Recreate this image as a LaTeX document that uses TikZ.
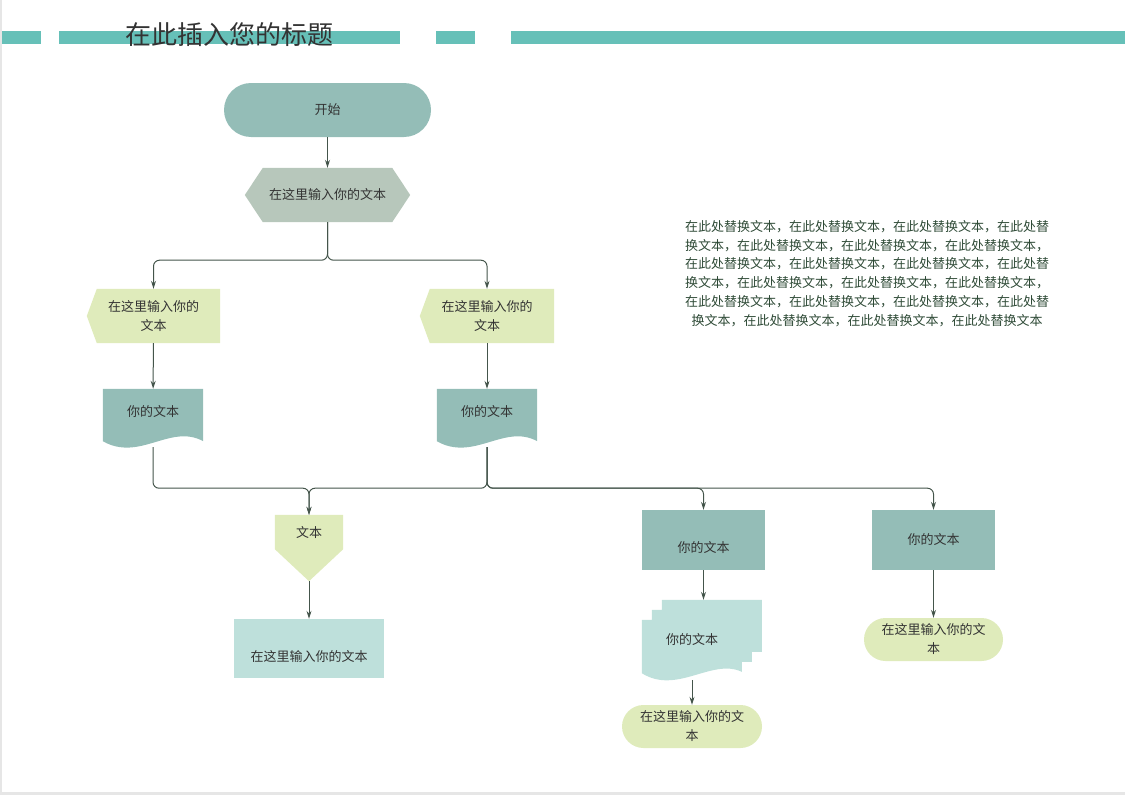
\documentclass[tikz,border=0pt]{standalone}
\usepackage{fontspec}
\setmainfont{Noto Sans CJK SC}
\usetikzlibrary{arrows.meta,backgrounds}
\definecolor{barteal}{HTML}{66C0B8}
\definecolor{nodeteal}{HTML}{94BDB7}
\definecolor{hexgray}{HTML}{B7C7BB}
\definecolor{paleolive}{HTML}{DFEBBB}
\definecolor{palecyan}{HTML}{BEE0DB}
\definecolor{linegreen}{HTML}{44554B}
\definecolor{textgray}{HTML}{333333}
\definecolor{paragreen}{HTML}{2E4A36}
\definecolor{framegray}{HTML}{E6E6E6}

\begin{document}
\begin{tikzpicture}[x=1pt,y=-1pt,
    box/.style={rectangle,inner sep=0pt,align=center,text=textgray,font=\fontsize{13}{19}\selectfont},
    flow/.style={draw=linegreen,line width=1pt,rounded corners=6pt,-{Stealth[length=8pt,width=5pt]}}]
    \useasboundingbox (0,0) rectangle (1125,795);
    \fill[framegray] (0,0) rectangle (2,795);
    \fill[framegray] (0,792) rectangle (1125,795);
    % title bar
    \fill[barteal] (2,31) rectangle (41,44);
    \fill[barteal] (59,31) rectangle (400,44);
    \fill[barteal] (436,31) rectangle (475,44);
    \fill[barteal] (511,31) rectangle (1125,44);
    \node[anchor=west,inner sep=0pt,text=textgray,font=\fontsize{26}{26}\selectfont] (title) at (125,35) {在此插入您的标题};

    \node[box,fill=nodeteal,rounded corners=27pt,minimum width=207pt,minimum height=54pt] (start) at (327.5,110) {开始};
    \node[box,minimum width=165pt,minimum height=54pt] (hex) at (327.5,195) {在这里输入你的文本};
    \node[box,minimum width=133pt,minimum height=54pt] (askL) at (153.5,316) {在这里输入你的\\文本};
    \node[box,minimum width=134pt,minimum height=54pt] (askR) at (487,316) {在这里输入你的\\文本};
    \node[box,minimum width=100pt,minimum height=58pt,text depth=14pt] (docL) at (153,418) {你的文本};
    \node[box,minimum width=100pt,minimum height=58pt,text depth=14pt] (docR) at (487,418) {你的文本};
    \node[box,minimum width=68pt,minimum height=66pt,text depth=32pt] (pent) at (309,548) {文本};
    \node[box,fill=palecyan,minimum width=150pt,minimum height=59pt,text height=28pt] (note) at (309,648.5) {在这里输入你的文本};
    \node[box,fill=nodeteal,minimum width=123pt,minimum height=60pt,text height=27pt] (midbox) at (703.5,540) {你的文本};
    \node[box,minimum width=100pt,minimum height=80pt] (mdoc) at (692,640) {你的文本};
    \node[box,fill=paleolive,rounded corners=21.5pt,minimum width=140pt,minimum height=43pt] (endM) at (692,726.5) {在这里输入你的文\\本};
    \node[box,fill=nodeteal,minimum width=123pt,minimum height=60pt] (rightbox) at (933.5,540) {你的文本};
    \node[box,fill=paleolive,rounded corners=21.5pt,minimum width=139pt,minimum height=43pt] (endR) at (933.5,639.5) {在这里输入你的文\\本};

    \node[align=center,text=paragreen,font=\fontsize{13}{18.7}\selectfont] (para) at (867,273.5) {%
      在此处替换文本，在此处替换文本，在此处替换文本，在此处替\\
      换文本，在此处替换文本，在此处替换文本，在此处替换文本，\\
      在此处替换文本，在此处替换文本，在此处替换文本，在此处替\\
      换文本，在此处替换文本，在此处替换文本，在此处替换文本，\\
      在此处替换文本，在此处替换文本，在此处替换文本，在此处替\\
      换文本，在此处替换文本，在此处替换文本，在此处替换文本};

    \begin{scope}[on background layer]
      \fill[hexgray] ([xshift=18pt]hex.north west) -- ([xshift=-18pt]hex.north east) -- (hex.east)
        -- ([xshift=-18pt]hex.south east) -- ([xshift=18pt]hex.south west) -- (hex.west) -- cycle;
      \fill[paleolive] ([xshift=10pt]askL.north west) -- (askL.north east) -- (askL.south east)
        -- ([xshift=10pt]askL.south west) -- (askL.west) -- cycle;
      \fill[paleolive] ([xshift=10pt]askR.north west) -- (askR.north east) -- (askR.south east)
        -- ([xshift=10pt]askR.south west) -- (askR.west) -- cycle;
      \fill[nodeteal] (docL.north west) -- (docL.north east) -- ([yshift=6pt]docL.south east)
        .. controls +(-33,-18) and +(37,21) .. ([yshift=6pt]docL.south west) -- cycle;
      \fill[nodeteal] (docR.north west) -- (docR.north east) -- ([yshift=6pt]docR.south east)
        .. controls +(-33,-18) and +(37,21) .. ([yshift=6pt]docR.south west) -- cycle;
      \fill[paleolive] (pent.north west) -- (pent.north east) -- ([yshift=32pt]pent.south east)
        -- (pent.south) -- ([yshift=32pt]pent.south west) -- cycle;
      \fill[palecyan] ([yshift=-20pt]mdoc.north west) -- ++(10,0) -- ++(0,-10) -- ++(10,0) -- ++(0,-10)
        -- ++(100,0) -- ++(0,52) -- ++(-10,0) -- ++(0,10) -- ++(-10,0) -- ++(0,10)
        .. controls +(-30,-14) and +(35,22) .. ([yshift=7pt]mdoc.south west) -- cycle;
    \end{scope}

    % connectors
    \draw[flow] (start) -- (hex);
    \draw[flow] (hex.south) -- ++(0,38) -| (askL);
    \draw[flow] (hex.south) -- ++(0,38) -| (askR);
    \draw[flow] (askL) -- (docL);
    \draw[flow] (askR) -- (docR);
    \draw[flow] (docL.south) -- ++(0,41) -| (pent);
    \draw[flow] (docR.south) -- ++(0,41) -| (pent);
    \draw[flow] (docR.south) -- ++(0,41) -| (midbox);
    \draw[flow] (docR.south) -- ++(0,41) -| (rightbox);
    \draw[flow] (pent) -- (note);
    \draw[flow] (midbox) -- (midbox |- mdoc.north);
    \draw[flow] (mdoc.south) -- (endM);
    \draw[flow] (rightbox) -- (endR);
\end{tikzpicture}
\end{document}
